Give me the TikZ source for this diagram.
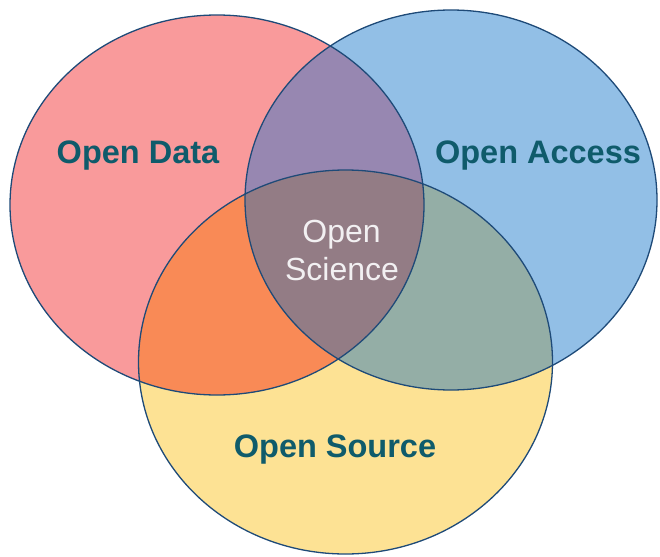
\documentclass[tikz,border=0pt]{standalone}
\usepackage{fontspec}
\setmainfont{Liberation Sans}
\definecolor{cred}{HTML}{F99A9B}
\definecolor{cblue}{HTML}{92BFE6}
\definecolor{cyellow}{HTML}{FDE294}
\definecolor{cpurple}{HTML}{9787B1}
\definecolor{corange}{HTML}{F98A56}
\definecolor{cgreen}{HTML}{94AEA6}
\definecolor{ccenter}{HTML}{937C85}
\definecolor{cline}{HTML}{1E4A78}
\definecolor{ctext}{HTML}{0F5B6B}
\definecolor{cwhite}{HTML}{F2F0F2}
\tikzset{
  outline/.style={draw=cline, line width=1.3pt},
  biglabel/.style={anchor=base, text=ctext, font=\fontsize{32.5}{38}\selectfont\bfseries, inner sep=0pt},
  centerlabel/.style={anchor=base, text=cwhite, font=\fontsize{32}{38}\selectfont, inner sep=0pt}
}
\def\pathred{(217,205) ellipse [x radius=207pt, y radius=190pt]}
\def\pathblue{(451,200) ellipse [x radius=206pt, y radius=190pt]}
\def\pathyellow{(345.5,362) ellipse [x radius=207pt, y radius=192pt]}
\begin{document}
\begin{tikzpicture}[x=1pt,y=-1pt]
\useasboundingbox (0,0) rectangle (660,556);
\fill[white] (0,0) rectangle (660,556);
% base fills
\fill[cred] \pathred;
\fill[cblue] \pathblue;
\fill[cyellow] \pathyellow;
% pairwise overlaps
\begin{scope}
  \clip \pathred;
  \fill[cpurple] \pathblue;
  \fill[corange] \pathyellow;
\end{scope}
\begin{scope}
  \clip \pathblue;
  \fill[cgreen] \pathyellow;
\end{scope}
\begin{scope}
  \clip \pathred;
  \clip \pathblue;
  \fill[ccenter] \pathyellow;
\end{scope}
% outlines
\draw[outline] \pathred;
\draw[outline] \pathblue;
\draw[outline] \pathyellow;
% labels
\node[biglabel] (data) at (138,164) {Open Data};
\node[biglabel] (access) at (538,163) {Open Access};
\node[biglabel] (source) at (335,457) {Open Source};
\node[centerlabel] (sci1) at (341.5,242) {Open};
\node[centerlabel] (sci2) at (342,280) {Science};
\end{tikzpicture}
\end{document}
